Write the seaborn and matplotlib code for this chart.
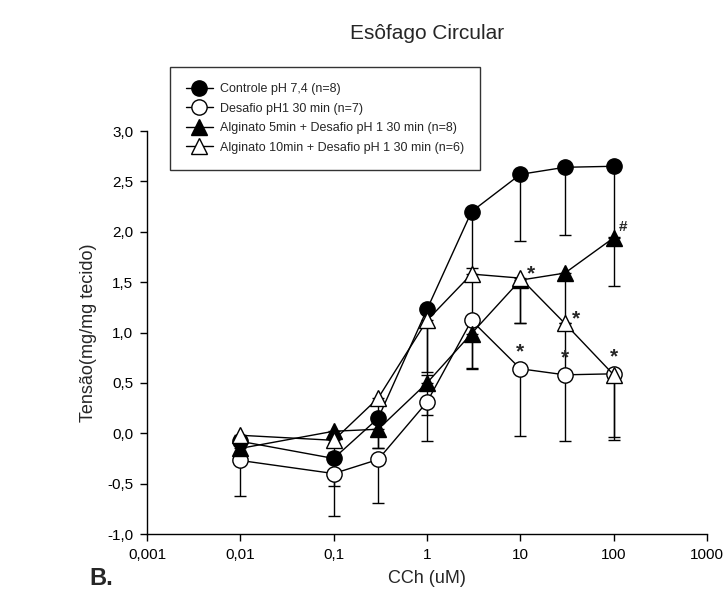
import numpy as np
import pandas as pd
import matplotlib
matplotlib.use("Agg")
import matplotlib.pyplot as plt
import seaborn as sns

# ---- data ----
conc = [0.01, 0.1, 0.3, 1, 3, 10, 30, 100]

ctrl = [-0.08, -0.25, 0.15, 1.23, 2.20, 2.57, 2.64, 2.65]
ctrl_err = [0.17, 0.27, 0.30, 0.65, 0.56, 0.66, 0.67, 0.70]

desafio = [-0.27, -0.40, -0.26, 0.31, 1.12, 0.64, 0.58, 0.59]
desafio_err = [0.35, 0.42, 0.43, 0.39, 0.47, 0.67, 0.66, 0.63]

alg5 = [-0.15, 0.02, 0.04, 0.50, 0.99, 1.52, 1.59, 1.94]
alg5_err = [0.10, 0.12, 0.19, 0.32, 0.35, 0.43, 0.50, 0.48]

alg10 = [-0.02, -0.07, 0.35, 1.12, 1.58, 1.54, 1.09, 0.58]
alg10_err = [0.10, 0.12, 0.20, 0.51, 0.50, 0.45, 0.50, 0.65]

labels = ["Controle pH 7,4 (n=8)",
          "Desafio pH1 30 min (n=7)",
          "Alginato 5min + Desafio pH 1 30 min (n=8)",
          "Alginato 10min + Desafio pH 1 30 min (n=6)"]

x_ticks = [0.001, 0.01, 0.1, 1, 10, 100, 1000]
x_tick_labels = ["0,001", "0,01", "0,1", "1", "10", "100", "1000"]
y_ticks = [-1.0, -0.5, 0.0, 0.5, 1.0, 1.5, 2.0, 2.5, 3.0]
y_tick_labels = ["-1,0", "-0,5", "0,0", "0,5", "1,0", "1,5", "2,0", "2,5", "3,0"]

# annotations: (series index, concentration index, text, dx_pts, dy_pts)
stars = [(3, 5, "*", 8, 3), (3, 6, "*", 8, 3),
         (1, 5, "*", 0, 12), (1, 6, "*", 0, 12), (1, 7, "*", 0, 12),
         (2, 7, "#", 7, 8)]

# ---- plot ----
sns.set_style("ticks")
plt.rcParams['font.family'] = ['Liberation Sans', 'DejaVu Sans']

fig = plt.figure(figsize=(7.25, 6.06), dpi=100)
ax = fig.add_axes([0.2028, 0.1188, 0.7724, 0.6650])

series = [ctrl, desafio, alg5, alg10]
errs = [ctrl_err, desafio_err, alg5_err, alg10_err]
markers = ["o", "o", "^", "^"]
faces = ["black", "white", "black", "white"]

handles = []
for i, (vals, e) in enumerate(zip(series, errs)):
    df = pd.DataFrame({"conc": conc, "val": vals})
    ax.errorbar(df["conc"], df["val"], yerr=[e, [0] * len(e)], fmt="none",
                ecolor="black", elinewidth=1.0, capsize=4.3, capthick=1.0,
                zorder=2 + i * 0.1)
    sns.lineplot(data=df, x="conc", y="val", ax=ax, color="black",
                 linewidth=1.0, marker=markers[i], markersize=11,
                 markerfacecolor=faces[i], markeredgecolor="black",
                 markeredgewidth=1.0, zorder=3 + i * 0.1, legend=False)
    h, = ax.plot([], [], color="black", linewidth=1.0, marker=markers[i],
                 markersize=11, markerfacecolor=faces[i],
                 markeredgecolor="black", markeredgewidth=1.0)
    handles.append(h)

for si, ci, txt, dx, dy in stars:
    ax.annotate(txt, (conc[ci], series[si][ci]), xytext=(dx, dy),
                textcoords="offset points", ha="center", va="center",
                fontsize=15 if txt == "*" else 11, fontweight="bold")

ax.set_xscale("log")
ax.set_xlim(0.001, 1000)
ax.set_ylim(-1.0, 3.0)
ax.set_xticks(x_ticks)
ax.set_xticklabels(x_tick_labels)
ax.xaxis.set_minor_locator(matplotlib.ticker.NullLocator())
ax.set_yticks(y_ticks)
ax.set_yticklabels(y_tick_labels)
ax.tick_params(axis="both", direction="out", length=5, width=1,
               labelsize=11, colors="black", pad=5)
for s in ["top", "right"]:
    ax.spines[s].set_visible(False)
for s in ["left", "bottom"]:
    ax.spines[s].set_color("black")
    ax.spines[s].set_linewidth(1.0)

ax.set_xlabel("CCh (uM)", fontsize=13)
ax.set_ylabel("Tensão(mg/mg tecido)", fontsize=13)
ax.xaxis.set_label_coords(0.5, -0.09)
ax.yaxis.set_label_coords(-0.09, 0.5)

fig.text(0.589, 0.945, "Esôfago Circular", ha="center", va="center",
         fontsize=15)
fig.text(0.14, 0.046, "B.", ha="center", va="center", fontsize=17,
         fontweight="bold")

leg = ax.legend(handles, labels, loc="upper left",
                bbox_to_anchor=(170 / 725, 1 - 67 / 606),
                bbox_transform=fig.transFigure, borderaxespad=0,
                fontsize=9, frameon=True, fancybox=False, handlelength=2.1,
                handletextpad=0.6, labelspacing=0.6, borderpad=1.3,
                edgecolor="black")
leg.get_frame().set_linewidth(1.0)

fig.savefig("out.png", dpi=100)
